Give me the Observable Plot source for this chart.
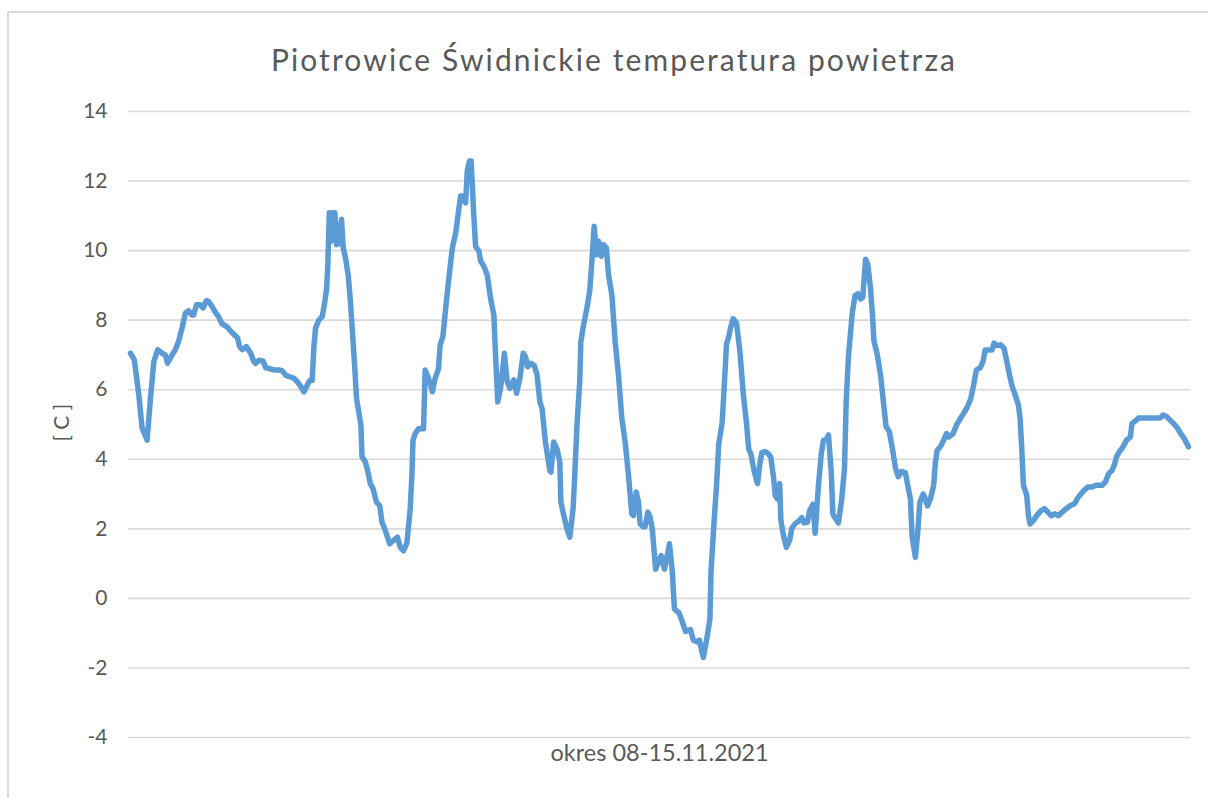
<!DOCTYPE html>
<html>
<head>
<meta charset="utf-8">
<script src="https://cdn.jsdelivr.net/npm/d3@7"></script>
<script src="https://cdn.jsdelivr.net/npm/@observablehq/plot@0.6"></script>
<style>
  html, body { margin: 0; padding: 0; background: #fff; }
  #wrap { position: relative; width: 1208px; height: 798px; overflow: hidden; font-family: Lato, "Open Sans", sans-serif; }
  #frame { position: absolute; left: 7px; top: 11px; width: 1300px; height: 900px; border-left: 2px solid #d9d9d9; border-top: 2px solid #d9d9d9; box-sizing: border-box; }
  #title { position: absolute; left: 0; width: 1228px; top: 39px; text-align: center; font-size: 30px; letter-spacing: 2.1px; color: #595959; line-height: 40px; }
  #chart { position: absolute; left: 0; top: 0; }
</style>
</head>
<body>
<div id="wrap">
  <div id="frame"></div>
  <div id="title"></div>
  <div id="chart"></div>
</div>
<script>
const titleText = "Piotrowice Świdnickie temperatura powietrza";
const xLabel = "okres 08-15.11.2021";
const yLabel = "[ C ]";
const yTicks = [-4, -2, 0, 2, 4, 6, 8, 10, 12, 14];

// hours since start of period (08.11.2021 00:00)
const hours = [
  0.0, 0.7, 1.5, 2.1, 3.0, 3.6, 4.2, 4.9, 5.7, 6.3, 6.7, 7.5, 8.1, 8.7, 9.3, 9.9, 10.5, 11.1, 11.4, 11.9,
  12.6, 13.1, 13.7, 14.1, 14.7, 15.3, 15.9, 16.5, 17.5, 18.0, 18.6, 19.3, 19.7, 20.2, 20.9, 21.7, 22.3, 22.6, 23.2, 23.9,
  24.4, 25.0, 25.9, 26.8, 27.4, 28.0, 28.6, 29.5, 30.1, 30.7, 31.3, 31.9, 32.4, 32.8, 33.1, 33.4, 34.0, 34.6, 35.0, 35.4,
  35.6, 35.9, 36.2, 36.5, 36.9, 37.2, 37.5, 37.8, 38.1, 38.4, 38.8, 39.3, 39.7, 40.1, 40.5, 40.8, 41.2, 41.6, 41.8, 42.4,
  42.8, 43.3, 43.8, 44.4, 45.0, 45.4, 46.0, 46.8, 47.5, 48.2, 48.7, 49.3, 49.9, 50.5, 50.8, 51.0, 51.4, 52.0, 52.9, 53.2,
  53.8, 54.5, 55.0, 55.6, 55.9, 56.4, 56.9, 57.4, 58.1, 58.7, 59.3, 59.6, 60.0, 60.5, 60.8, 61.2, 61.5, 61.9, 62.3, 62.9,
  63.2, 63.8, 64.4, 65.0, 65.6, 65.9, 66.3, 66.8, 67.5, 68.0, 68.5, 69.2, 69.7, 70.3, 70.9, 71.3, 71.7, 72.2, 72.9, 73.4,
  73.9, 74.3, 74.9, 75.7, 75.9, 76.4, 77.0, 77.5, 77.7, 78.2, 78.8, 79.3, 79.9, 80.2, 80.6, 81.1, 81.3, 81.8, 82.4, 82.9,
  83.3, 83.7, 84.1, 84.5, 85.0, 85.4, 85.9, 86.3, 86.9, 87.5, 88.1, 88.7, 89.3, 89.9, 90.5, 90.8, 91.3, 91.7, 92.0, 92.5,
  92.9, 93.4, 93.8, 94.2, 94.8, 95.3, 95.8, 96.4, 96.9, 97.3, 97.8, 98.2, 99.0, 99.6, 100.2, 101.1, 101.6, 102.3, 102.7, 103.4,
  104.0, 104.6, 104.8, 105.3, 105.8, 106.2, 106.8, 107.1, 107.6, 108.0, 108.3, 108.8, 109.4, 110.0, 110.6, 111.2, 111.6, 112.0, 112.6, 113.2,
  113.6, 114.0, 114.6, 115.2, 115.6, 116.1, 116.4, 116.8, 117.2, 117.4, 117.8, 118.4, 119.0, 119.4, 120.0, 120.6, 121.2, 121.6, 122.2, 122.6,
  123.2, 123.6, 124.2, 124.7, 125.1, 125.6, 126.0, 126.5, 126.8, 127.4, 127.8, 128.4, 128.9, 129.2, 129.6, 130.3, 130.8, 131.3, 131.8, 132.2,
  132.7, 133.1, 133.6, 134.0, 134.2, 134.8, 135.4, 136.0, 136.4, 137.0, 137.6, 138.1, 138.6, 139.2, 139.9, 140.3, 140.8, 141.1, 141.7, 142.1,
  142.5, 143.1, 143.5, 143.9, 144.5, 145.0, 145.3, 145.6, 146.2, 146.8, 147.3, 147.7, 148.5, 149.1, 149.8, 150.4, 151.1, 151.7, 152.2, 152.7,
  153.4, 153.9, 154.3, 154.9, 155.5, 155.9, 156.4, 157.1, 157.7, 158.2, 158.7, 159.1, 159.7, 160.3, 160.6, 160.9, 161.2, 161.5, 161.8, 162.1,
  162.4, 163.0, 163.6, 164.4, 165.0, 165.6, 166.2, 166.9, 167.5, 168.2, 168.9, 169.7, 170.4, 171.1, 172.1, 172.8, 173.6, 174.2, 175.4, 176.0,
  176.6, 177.2, 177.6, 178.0, 178.5, 179.2, 179.8, 180.5, 180.8, 181.4, 182.0, 184.1, 185.9, 186.4, 187.1, 187.7, 188.3, 189.0, 189.6, 190.4,
  191.0
];

// air temperature [°C]
const temps = [
  7.05, 6.85, 5.85, 4.9, 4.55, 5.75, 6.8, 7.15, 7.05, 7.0, 6.76, 7.0, 7.15, 7.4, 7.77, 8.2, 8.27, 8.15, 8.15, 8.44,
  8.44, 8.35, 8.56, 8.54, 8.4, 8.23, 8.1, 7.9, 7.8, 7.7, 7.6, 7.5, 7.24, 7.15, 7.24, 7.05, 6.8, 6.76, 6.85, 6.83,
  6.63, 6.61, 6.57, 6.57, 6.54, 6.42, 6.38, 6.33, 6.23, 6.1, 5.94, 6.13, 6.27, 6.27, 7.2, 7.77, 8.0, 8.1, 8.44, 8.9,
  9.5, 11.09, 10.27, 11.09, 11.09, 10.17, 10.75, 10.2, 10.9, 10.08, 9.8, 9.3, 8.54, 7.58, 6.6, 5.75, 5.37, 4.98, 4.07, 3.92,
  3.68, 3.3, 3.15, 2.77, 2.67, 2.19, 1.95, 1.57, 1.67, 1.76, 1.47, 1.37, 1.6, 2.58, 3.54, 4.55, 4.74, 4.88, 4.88, 6.57,
  6.33, 5.94, 6.33, 6.6, 7.29, 7.53, 8.35, 9.1, 10.08, 10.5, 11.23, 11.57, 11.57, 11.37, 12.3, 12.58, 12.58, 11.23, 10.12, 9.98,
  9.7, 9.55, 9.3, 8.63, 8.15, 7.0, 5.65, 6.04, 7.05, 6.23, 6.04, 6.28, 5.9, 6.33, 7.05, 6.95, 6.66, 6.76, 6.7, 6.42,
  5.65, 5.46, 4.5, 3.68, 3.63, 4.5, 4.3, 3.92, 2.77, 2.4, 2.0, 1.76, 2.58, 3.54, 4.98, 6.23, 7.38, 7.87, 8.35, 8.83,
  9.7, 10.7, 9.88, 10.27, 9.84, 10.17, 10.08, 9.3, 8.73, 7.38, 6.42, 5.17, 4.5, 3.54, 2.43, 2.38, 3.06, 2.77, 2.15, 2.06,
  2.06, 2.48, 2.34, 2.0, 0.84, 1.04, 1.23, 0.84, 1.25, 1.57, 0.78, -0.31, -0.41, -0.66, -0.95, -0.9, -1.2, -1.25, -1.2, -1.7,
  -1.2, -0.6, 0.78, 2.07, 3.26, 4.45, 5.04, 5.84, 7.32, 7.52, 7.77, 8.04, 7.92, 7.12, 5.93, 5.04, 4.3, 4.15, 3.65, 3.3,
  3.85, 4.2, 4.22, 4.15, 4.05, 3.46, 2.96, 2.86, 3.3, 2.27, 1.87, 1.47, 1.67, 2.02, 2.15, 2.22, 2.32, 2.17, 2.19, 2.52,
  2.71, 1.87, 3.26, 4.15, 4.55, 4.57, 4.7, 3.65, 2.42, 2.27, 2.17, 2.86, 3.75, 5.64, 6.93, 8.21, 8.71, 8.76, 8.61, 8.66,
  9.75, 9.6, 8.91, 8.02, 7.42, 7.02, 6.43, 5.54, 4.94, 4.79, 4.25, 3.75, 3.5, 3.65, 3.61, 3.26, 2.86, 1.77, 1.18, 1.87,
  2.76, 3.0, 2.86, 2.66, 2.91, 3.26, 3.9, 4.25, 4.36, 4.55, 4.74, 4.64, 4.74, 4.98, 5.17, 5.32, 5.51, 5.75, 6.13, 6.57,
  6.63, 6.81, 7.14, 7.14, 7.14, 7.34, 7.27, 7.29, 7.19, 6.81, 6.42, 6.13, 5.85, 5.56, 5.17, 4.31, 3.25, 3.11, 2.96, 2.38,
  2.14, 2.24, 2.38, 2.53, 2.58, 2.48, 2.38, 2.43, 2.38, 2.48, 2.58, 2.67, 2.72, 2.91, 3.1, 3.2, 3.2, 3.25, 3.25, 3.35,
  3.59, 3.68, 3.83, 4.07, 4.21, 4.36, 4.55, 4.64, 5.03, 5.1, 5.19, 5.19, 5.19, 5.27, 5.22, 5.12, 5.03, 4.9, 4.74, 4.55,
  4.36
];

document.getElementById("title").textContent = titleText;

const data = hours.map((h, i) => ({h, t: temps[i]}));

const textColor = "#595959";
const chart = Plot.plot({
  width: 1208,
  height: 798,
  marginLeft: 128,
  marginRight: 18,
  marginTop: 111,
  marginBottom: 61,
  style: {fontFamily: "Lato, 'Open Sans', sans-serif", fontSize: "21px", color: textColor, background: "transparent", overflow: "visible"},
  x: {domain: [0, 191], insetLeft: 2, insetRight: 2, axis: null},
  y: {domain: [-4, 14], axis: null},
  marks: [
    Plot.ruleY(yTicks, {stroke: "#d9d9d9", strokeWidth: 1.6}),
    Plot.axisY(yTicks, {tickSize: 0, tickPadding: 21, label: null, fill: textColor, fontSize: 21, tickFormat: d => String(d)}),
    Plot.line(data, {x: "h", y: "t", stroke: "#5b9bd5", strokeWidth: 5.5, strokeLinejoin: "round", strokeLinecap: "round", curve: "linear"}),
    Plot.text([xLabel], {frameAnchor: "bottom", dy: 23, fill: textColor, fontSize: 23.5, style: {letterSpacing: "0.5px"}}),
    Plot.text([yLabel], {frameAnchor: "left", dx: -66, dy: 17, rotate: -90, fill: textColor, fontSize: 21})
  ]
});
document.getElementById("chart").appendChild(chart);
</script>
</body>
</html>
